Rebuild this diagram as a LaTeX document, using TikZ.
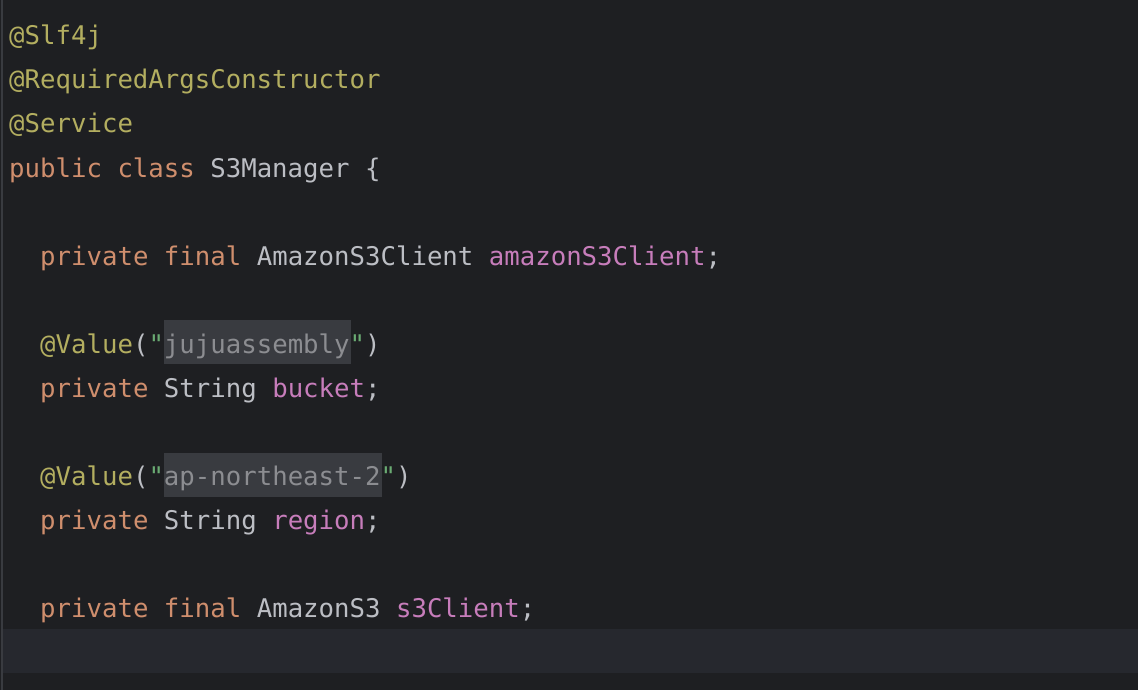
\documentclass[tikz,border=0pt]{standalone}
\usepackage{fontspec}
\setmonofont{DejaVu Sans Mono}
\usepackage{tikz}
\usetikzlibrary{positioning}

\definecolor{EditorBg}{HTML}{1E1F22}
\definecolor{CaretLine}{HTML}{26282E}
\definecolor{Gutter}{HTML}{393B40}
\definecolor{Plain}{HTML}{BCBEC4}
\definecolor{Keyword}{HTML}{CF8E6D}
\definecolor{Annot}{HTML}{B3AE60}
\definecolor{Field}{HTML}{C77DBB}
\definecolor{Quote}{HTML}{6AAB73}
\definecolor{Inject}{HTML}{8C8D91}
\definecolor{InjectBg}{HTML}{393B40}

\newcommand{\kw}[1]{\textcolor{Keyword}{#1}}
\newcommand{\an}[1]{\textcolor{Annot}{#1}}
\newcommand{\fd}[1]{\textcolor{Field}{#1}}
\newcommand{\qt}{\textcolor{Quote}{"}}
\newcommand{\injtext}[1]{\textcolor{Inject}{#1}}

\begin{document}
\begin{tikzpicture}[
  x=1pt, y=-1pt,
  code/.style={anchor=base west, inner sep=0pt, text=Plain,
    font=\ttfamily\fontsize{25.7}{30}\selectfont},
  hilite/.style={fill=InjectBg, draw=none}
]

\useasboundingbox (0,0) rectangle (1138,690);
\fill[EditorBg] (0,0) rectangle (1138,690);
\fill[CaretLine] (3,629) rectangle (1138,673); % current line
\fill[Gutter] (1,0) rectangle (3,690);

\fill[hilite] (164,320) rectangle (351,364);
\fill[hilite] (164,453) rectangle (382,497);

\node[code] (slf) at (9,45) {\an{@Slf4j}};
\node[code] (args) at (9,89) {\an{@RequiredArgsConstructor}};
\node[code] (svc) at (9,133) {\an{@Service}};
\node[code] (cls) at (9,177) {\kw{public class} S3Manager \{};

\node[code] (s3c) at (40,265) {\kw{private final} AmazonS3Client \fd{amazonS3Client};};

\node[code] (bval) at (40,353) {\an{@Value}(\qt\injtext{jujuassembly}\qt)};
\node[code] (bucket) at (40,397) {\kw{private} String \fd{bucket};};

\node[code] (rval) at (40,485) {\an{@Value}(\qt\injtext{ap-northeast-2}\qt)};
\node[code] (region) at (40,529) {\kw{private} String \fd{region};};

\node[code] (client) at (40,617) {\kw{private final} AmazonS3 \fd{s3Client};};

\end{tikzpicture}
\end{document}
